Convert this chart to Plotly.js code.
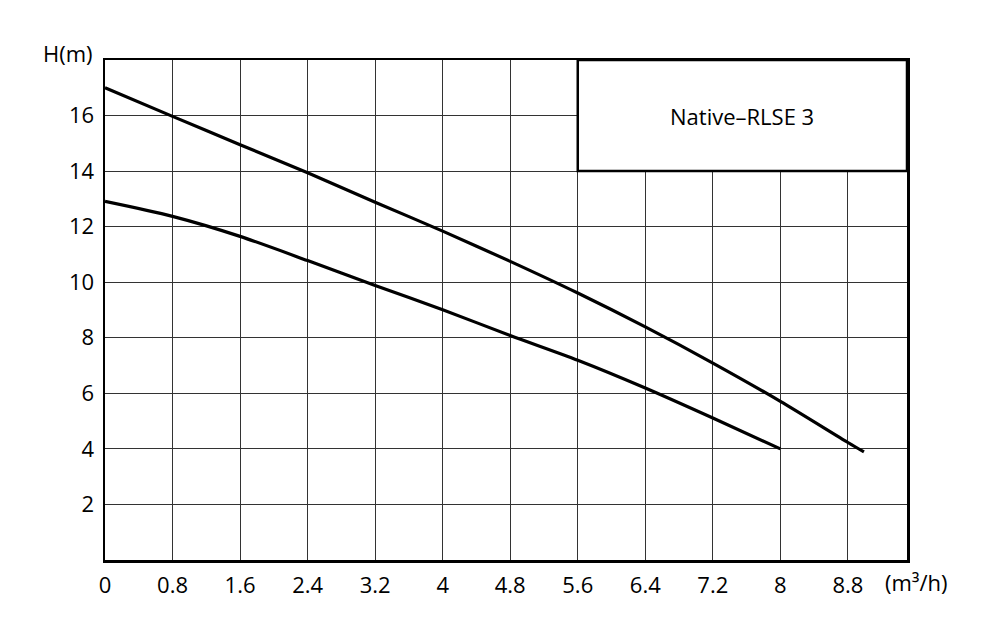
<!DOCTYPE html>
<html>
<head>
<meta charset="utf-8">
<script src="https://cdn.plot.ly/plotly-3.0.1.min.js"></script>
<style>
  html, body { margin: 0; padding: 0; background: #fff; }
  #chart { width: 1000px; height: 641px; }
</style>
</head>
<body>
<div id="chart"></div>
<script>
// Flow (m3/h) and head (m)
const flowHigh = [0, 0.8, 1.6, 2.4, 3.2, 4.0, 4.8, 5.6, 6.4, 7.2, 8.0, 8.8, 8.99];
const headHigh = [17.0, 15.97, 14.95, 13.94, 12.88, 11.84, 10.75, 9.61, 8.39, 7.09, 5.71, 4.23, 3.89];

const flowLow = [0, 0.8, 1.6, 2.4, 3.2, 4.0, 4.8, 5.6, 6.4, 7.2, 8.0];
const headLow = [12.91, 12.37, 11.65, 10.78, 9.88, 9.01, 8.08, 7.19, 6.19, 5.11, 4.0];

const xTicks = [0, 0.8, 1.6, 2.4, 3.2, 4, 4.8, 5.6, 6.4, 7.2, 8, 8.8];
const yTicks = [2, 4, 6, 8, 10, 12, 14, 16];

const modelName = 'Native\u2013RLSE 3';

const FONT = 'Open Sans, Lato, sans-serif';

function curve(x, y) {
    return {
        x: x,
        y: y,
        mode: 'lines',
        line: { color: '#000', width: 3.2, shape: 'spline', smoothing: 0.8 },
        hoverinfo: 'skip',
        showlegend: false
    };
}

const axisCommon = {
    showline: true,
    mirror: true,
    linecolor: '#000',
    linewidth: 2.5,
    showgrid: true,
    gridcolor: '#333',
    gridwidth: 1,
    zeroline: false,
    ticks: '',
    tickfont: { family: FONT, size: 22, color: '#000' },
    fixedrange: true
};

const layout = {
    width: 1000,
    height: 641,
    margin: { l: 105, r: 93, t: 60, b: 81, pad: 0 },
    paper_bgcolor: '#fff',
    plot_bgcolor: '#fff',
    font: { family: FONT, color: '#000' },
    xaxis: Object.assign({}, axisCommon, {
        range: [0, 9.5],
        tickvals: xTicks,
        ticktext: xTicks.map(String),
        ticklabelstandoff: 4
    }),
    yaxis: Object.assign({}, axisCommon, {
        range: [0, 18],
        tickvals: yTicks,
        ticktext: yTicks.map(String),
        ticklabelstandoff: 4
    }),
    shapes: [{
        type: 'rect',
        xref: 'x', yref: 'y',
        x0: 5.6, x1: 9.5, y0: 14, y1: 18,
        fillcolor: '#fff',
        line: { color: '#000', width: 2.5 },
        layer: 'above'
    }],
    annotations: [
        {
            text: modelName,
            xref: 'x', yref: 'y',
            x: 7.55, y: 16,
            showarrow: false,
            font: { family: FONT, size: 22, color: '#000' }
        },
        {
            text: 'H(m)',
            xref: 'paper', yref: 'paper',
            x: -0.046, y: 1.015,
            xanchor: 'center', yanchor: 'middle',
            showarrow: false,
            font: { family: FONT, size: 22, color: '#000' }
        },
        {
            text: '(m\u00b3/h)',
            xref: 'paper', yref: 'paper',
            x: 1.0115, y: 0,
            xanchor: 'center', yanchor: 'top',
            yshift: -5,
            showarrow: false,
            font: { family: FONT, size: 22, color: '#000' }
        }
    ]
};

Plotly.newPlot('chart', [curve(flowHigh, headHigh), curve(flowLow, headLow)], layout,
    { displayModeBar: false, staticPlot: true });
</script>
</body>
</html>
